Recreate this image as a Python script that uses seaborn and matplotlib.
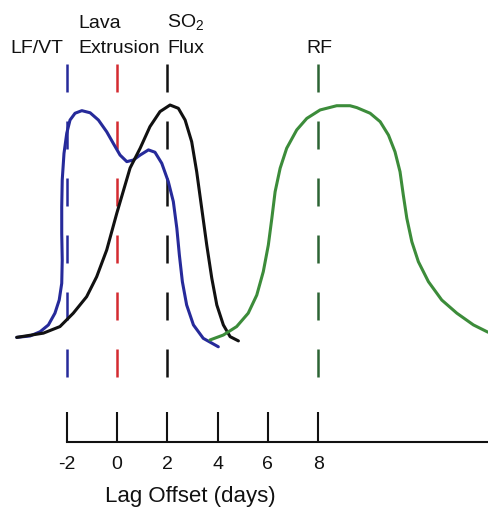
import numpy as np
import pandas as pd
import seaborn as sns
import matplotlib.pyplot as plt

# Curves (lag offset in days, relative amplitude)
lfvt_x = [-3.99, -3.46, -3.06, -2.73, -2.47, -2.30, -2.20, -2.18, -2.20, -2.20, -2.18,
          -2.11, -2.00, -1.87, -1.67, -1.40, -1.07, -0.74, -0.41, -0.15, 0.12, 0.39,
          0.65, 0.92, 1.25, 1.51, 1.78, 2.04, 2.24, 2.38, 2.48, 2.60, 2.77, 3.04,
          3.43, 4.03]
lfvt_y = [0.011, 0.017, 0.035, 0.064, 0.114, 0.170, 0.241, 0.340, 0.454, 0.567, 0.681,
          0.794, 0.880, 0.936, 0.965, 0.976, 0.967, 0.936, 0.886, 0.837, 0.787, 0.759,
          0.766, 0.787, 0.809, 0.799, 0.752, 0.674, 0.589, 0.475, 0.362, 0.248, 0.149,
          0.064, 0.007, -0.029]

so2_x = [-3.99, -2.93, -2.27, -1.74, -1.21, -0.81, -0.41, -0.01, 0.52, 0.92, 1.31,
         1.71, 2.11, 2.44, 2.71, 2.97, 3.17, 3.37, 3.57, 3.77, 3.97, 4.23, 4.50, 4.83]
so2_y = [0.011, 0.029, 0.057, 0.114, 0.184, 0.269, 0.383, 0.539, 0.732, 0.816, 0.908,
         0.972, 1.000, 0.986, 0.936, 0.844, 0.716, 0.560, 0.404, 0.263, 0.149, 0.064,
         0.014, -0.004]

rf_x = [3.70, 4.23, 4.76, 5.22, 5.56, 5.82, 6.02, 6.16, 6.29, 6.49, 6.75, 7.15, 7.55,
        8.08, 8.74, 9.27, 9.54, 10.07, 10.47, 10.80, 11.06, 11.26, 11.39, 11.53, 11.73,
        11.99, 12.39, 12.92, 13.52, 14.18, 14.76]
rf_y = [0.000, 0.021, 0.057, 0.114, 0.191, 0.291, 0.404, 0.518, 0.631, 0.731, 0.816,
        0.894, 0.943, 0.979, 0.997, 0.997, 0.989, 0.965, 0.929, 0.872, 0.801, 0.716,
        0.617, 0.518, 0.418, 0.333, 0.248, 0.170, 0.114, 0.064, 0.033]

# Peak lag markers
marker_names = ["LF/VT", "Lava Extrusion", "SO2 Flux", "RF"]
marker_lags = [-2, 0, 2, 8]

tick_values = [-2, 0, 2, 4, 6, 8]
tick_labels = ["-2", "0", "2", "4", "6", "8"]

blue = "#262a9a"
red = "#d42a30"
black = "#111111"
green = "#3c8c3a"
dark_green = "#2c6434"
marker_colors = [blue, red, black, dark_green]

sns.set_style("white")
plt.rcParams["font.family"] = ["Liberation Sans", "DejaVu Sans"]
plt.rcParams["mathtext.fontset"] = "custom"
plt.rcParams["mathtext.rm"] = "Liberation Sans"

fig = plt.figure(figsize=(4.88, 5.07), dpi=100)
ax = fig.add_axes([0, 0, 1, 1])
ax.set_xlim(-4.656, 14.76)
ax.set_ylim(-0.711, 1.447)

# dashed lag markers
for lag, col in zip(marker_lags, marker_colors):
    ax.plot([lag, lag], [1.174, -0.17], color=col, lw=1.8,
            dashes=(11.2, 11.6), dash_capstyle="butt")

curves = [(lfvt_x, lfvt_y, blue), (so2_x, so2_y, black), (rf_x, rf_y, green)]
for cx, cy, col in curves:
    sns.lineplot(x=cx, y=cy, color=col, lw=2.2, sort=False, estimator=None, ax=ax,
                 solid_joinstyle="round", solid_capstyle="round")

# axis
axis_y = -0.434
for s in ["left", "top", "right"]:
    ax.spines[s].set_visible(False)
ax.spines["bottom"].set_position(("data", axis_y))
ax.spines["bottom"].set_bounds(-2, 14.76)
ax.spines["bottom"].set_linewidth(1.5)
ax.spines["bottom"].set_color("#111111")
ax.set_xticks(tick_values)
ax.set_xticklabels(tick_labels)
ax.set_yticks([])
ax.tick_params(axis="x", direction="in", length=21.6, width=1.5, color="#111111",
               labelsize=14, pad=10, labelcolor="#111111", bottom=True)

ax.text(2.9, -0.689, "Lag Offset (days)", fontsize=16, ha="center", va="baseline",
        color="#111111")

# top labels
ax.text(-3.2, 1.221, "LF/VT", fontsize=14, ha="center", va="baseline", color="#111111")
ax.text(-1.55, 1.328, "Lava", fontsize=14, ha="left", va="baseline", color="#111111")
ax.text(-1.55, 1.221, "Extrusion", fontsize=14, ha="left", va="baseline", color="#111111")
ax.text(1.99, 1.328, "SO$_2$", fontsize=14, ha="left", va="baseline", color="#111111")
ax.text(1.99, 1.221, "Flux", fontsize=14, ha="left", va="baseline", color="#111111")
ax.text(8.04, 1.221, "RF", fontsize=14, ha="center", va="baseline", color="#111111")

fig.savefig("out.png", dpi=100)
